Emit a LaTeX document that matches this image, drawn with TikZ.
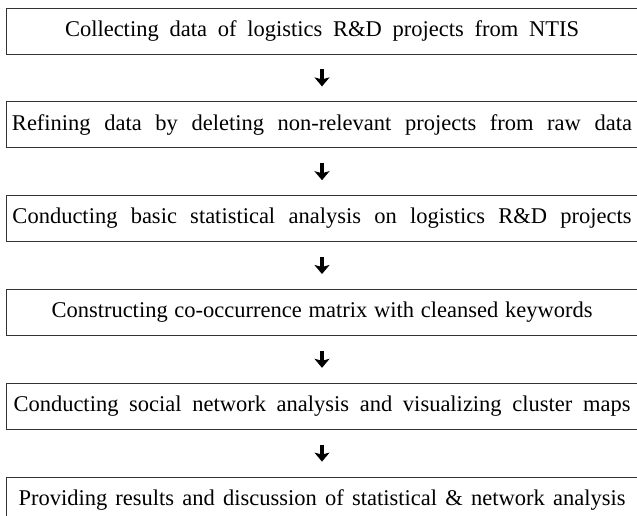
\documentclass[tikz,border=0pt]{standalone}
\usepackage{fontspec}
\setmainfont{Liberation Serif}
\usetikzlibrary{positioning,arrows.meta}
\tikzset{stepbox/.style={draw=black!80,line width=0.8pt,minimum width=632pt,
        minimum height=46pt,inner sep=0pt,font=\fontsize{22.5}{26}\selectfont},
        flowarrow/.style={line width=4pt,-{Stealth[length=9pt,width=15pt,inset=2pt]}}}
%% spread a line of text over a given width
\newcommand{\steptext}[2]{\makebox[#1][s]{#2}}
\begin{document}
\begin{tikzpicture}[x=1pt,y=1pt,node distance=47pt]
  \useasboundingbox (0,0) rectangle (637,-515);
  %% the six steps
  \node[stepbox] (collect) at (322,-31)
       {\steptext{514pt}{Collecting data of logistics R\&D projects from NTIS}};
  \node[stepbox,below=of collect] (refine)
       {\steptext{620pt}{Refining data by deleting non-relevant projects from raw data}};
  \node[stepbox,below=of refine] (basic)
       {\steptext{619pt}{Conducting basic statistical analysis on logistics R\&D projects}};
  \node[stepbox,below=of basic] (matrix)
       {\steptext{541pt}{Constructing co-occurrence matrix with cleansed keywords}};
  \node[stepbox,below=of matrix] (sna)
       {\steptext{617pt}{Conducting social network analysis and visualizing cluster maps}};
  \node[stepbox,below=of sna] (results)
       {\steptext{607pt}{Providing results and discussion of statistical \& network analysis}};
  %% arrows
  \foreach \a/\b in {collect/refine,refine/basic,basic/matrix,matrix/sna,sna/results}
    \draw[flowarrow] ([yshift=-15pt]\a.south) -- ([yshift=15pt]\b.north);
\end{tikzpicture}
\end{document}
